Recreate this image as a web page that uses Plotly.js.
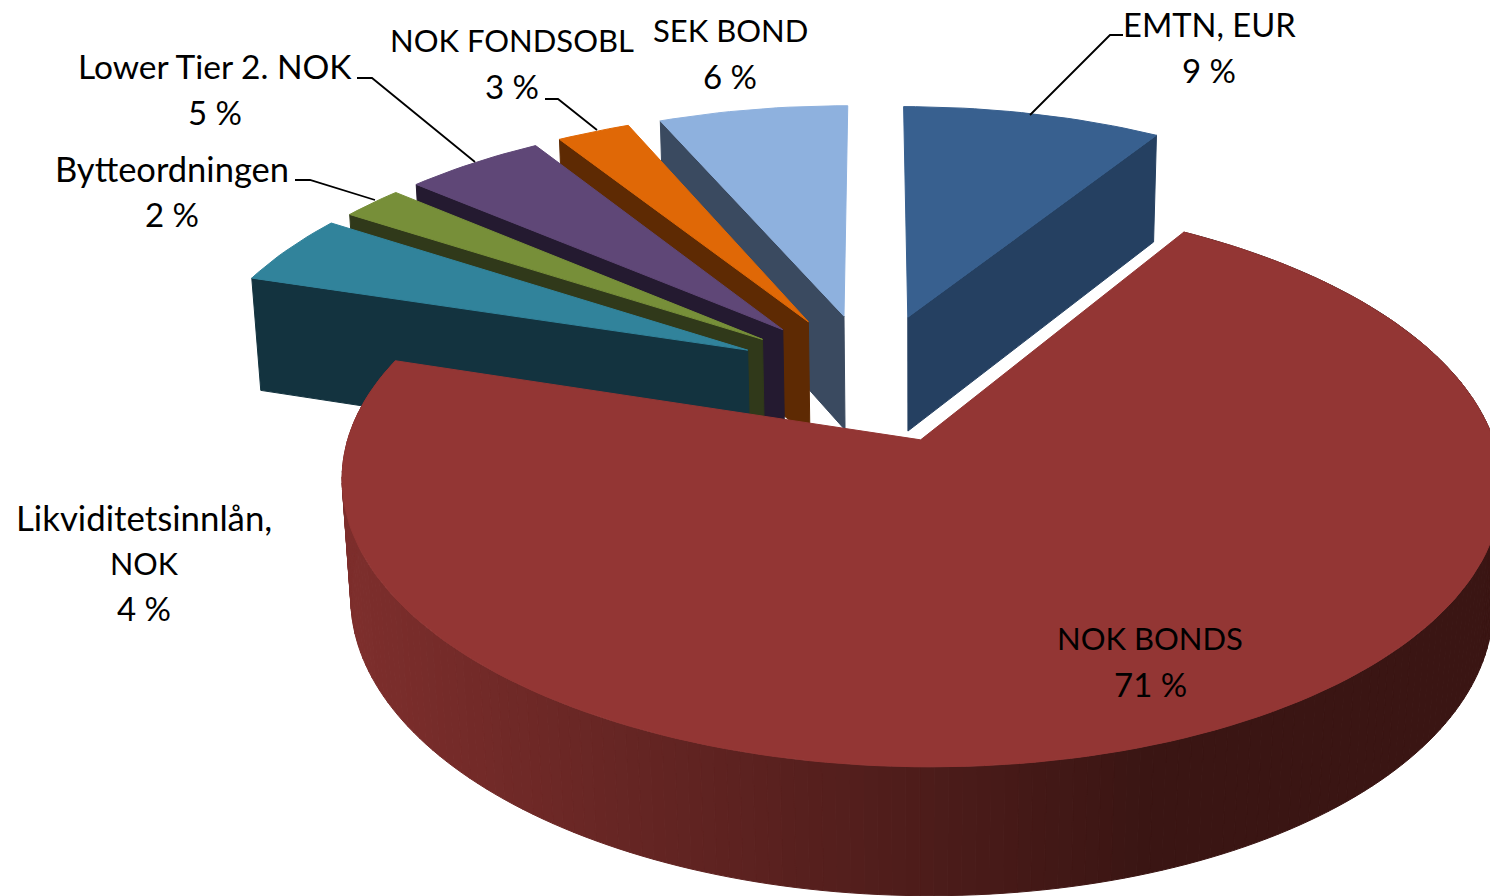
<!DOCTYPE html>
<html><head><meta charset="utf-8">
<script src="https://cdn.plot.ly/plotly-3.0.1.min.js"></script>
<style>html,body{margin:0;padding:0;background:#fff}#c{width:1490px;height:896px}</style>
</head><body><div id="c"></div>
<script>
// ---- data ----
const categories = ["EMTN, EUR","NOK BONDS","Likviditetsinnlån, NOK","Bytteordningen","Lower Tier 2. NOK","NOK FONDSOBL","SEK BOND"];
const values = [8.88,70.92,4.35,2.09,4.76,2.51,6.49];
const labelLines = [["EMTN, EUR"],["NOK BONDS"],["Likviditetsinnlån,","NOK"],["Bytteordningen"],["Lower Tier 2. NOK"],["NOK FONDSOBL"],["SEK BOND"]];

// ---- styles ----
const topColors  = ["#38608f","#933634","#31839b","#778f39","#5f4777","#e06806","#8eb1de"];
const sideColors = ["#254061","#7d2e2c","#13333f","#30391a","#241a30","#5e2a03","#3a4a60"];
const labelX = [1209,1150,144,172,215,512,730];
const labelY = [24,638,517,168,66,40,30];
const labelSizes = [[32.7],[31],[34.8,30.5],[34.5],[33.5],[31],[31]];
const valueSize = 33;
const lineGap = 45.5;
const rimScale = [1,1,1.006,1,1,1,1];
const leaders = [
  [[1123,1110,1030],[35,35,115]],
  [[357,372,475],[78,78,162]],
  [[545,558,597],[99,99,130]],
  [[295,310,375],[180,180,200]]
];

// ---- projection of the tilted pie (red apex is the origin of the plane) ----
const CX=920, CY=440, A=573, B=277, K=0.153, EXPLODE=0.25, SKEW=8, ROT=0.1;
const C0=[-0.0855,-0.235];
function proj(u,v,d){
  const w=1-K*v+0.015*d;
  return [CX+(A*u+SKEW*v)/w, CY+(B*v+d*(120-4*v))/w];
}
const rad=a=>a*Math.PI/180;
const total=values.reduce((a,b)=>a+b,0);
let acc=0;
const slices=values.map((val,i)=>{
  const a0=acc/total*360+ROT; acc+=val; const a1=acc/total*360+ROT; const mid=(a0+a1)/2;
  const ox=C0[0]+EXPLODE*Math.sin(rad(mid)), oy=C0[1]-EXPLODE*Math.cos(rad(mid));
  const rim=(a)=>[ox+rimScale[i]*Math.sin(rad(a)),oy-rimScale[i]*Math.cos(rad(a))];
  return {i,a0,a1,ox,oy,rim};
});
function poly(pts,color){
  return {type:"scatter",mode:"lines",x:pts.map(p=>p[0]),y:pts.map(p=>p[1]),fill:"toself",fillcolor:color,
    line:{color:color,width:1},hoverinfo:"skip",showlegend:false};
}
function hex(c){return [1,3,5].map(k=>parseInt(c.substr(k,2),16));}
function mix(a,b,t){const x=hex(a),y=hex(b);return "rgb("+x.map((v,k)=>Math.round(v+(y[k]-v)*t)).join(",")+")";}
const traces=[];
function wedge(s){
  const pts=[proj(s.ox,s.oy,0)];
  const n=Math.max(6,Math.ceil((s.a1-s.a0)/1.5));
  for(let k=0;k<=n;k++){const r=s.rim(s.a0+(s.a1-s.a0)*k/n);pts.push(proj(r[0],r[1],0));}
  pts.push(pts[0]);
  return poly(pts,topColors[s.i]);
}
function wall(s,a){
  const r=s.rim(a);
  return poly([proj(s.ox,s.oy,0),proj(r[0],r[1],0),proj(r[0],r[1],1),proj(s.ox,s.oy,1),proj(s.ox,s.oy,0)],sideColors[s.i]);
}
// back-to-front painter's order: SEK, EMTN, orange, purple, green, teal, red
[[6,"a0"],[0,"a1"],[5,"a0"],[4,"a0"],[3,"a0"],[2,"a0"]].forEach(([i,e])=>{
  const s=slices[i]; traces.push(wall(s,s[e])); traces.push(wedge(s));
});
// main slice: shaded outer wall then top
const red=slices[1];
const step=1.2;
for(let a=red.a0;a<red.a1;a+=step){
  const b=Math.min(a+step,red.a1);
  const r0=red.rim(a),r1=red.rim(b);
  const p=[proj(r0[0],r0[1],0),proj(r1[0],r1[1],0),proj(r1[0],r1[1],1),proj(r0[0],r0[1],1)];
  const mx=(p[0][0]+p[1][0])/2;
  const t=Math.min(1,Math.max(0,(mx-350)/(1150-350)));
  const col=mix("#7d2e2c","#3a1513",t);
  p.push(p[0]);
  traces.push(poly(p,col));
}
traces.push(wedge(red));
// leader lines
leaders.forEach(l=>traces.push({type:"scatter",mode:"lines",x:l[0],y:l[1],line:{color:"#000",width:1.8},hoverinfo:"skip",showlegend:false}));

// labels
const annotations=[];
labelLines.forEach((lines,i)=>{
  lines.forEach((t,k)=>annotations.push({x:labelX[i],y:labelY[i]+k*lineGap,xref:"x",yref:"y",text:t,showarrow:false,xanchor:"center",yanchor:"middle",
      font:{family:"Lato, Carlito, sans-serif",size:labelSizes[i][k],color:"#000"}}));
  annotations.push({x:labelX[i],y:labelY[i]+lines.length*lineGap,xref:"x",yref:"y",text:Math.round(values[i])+" %",showarrow:false,xanchor:"center",yanchor:"middle",
      font:{family:"Lato, Carlito, sans-serif",size:valueSize,color:"#000"}});
});
const ax={range:[0,1490],visible:false,fixedrange:true};
Plotly.newPlot("c",traces,{
  width:1490,height:896,margin:{l:0,r:0,t:0,b:0},paper_bgcolor:"#fff",plot_bgcolor:"#fff",showlegend:false,
  xaxis:ax,yaxis:{range:[896,0],visible:false,fixedrange:true},annotations
},{displayModeBar:false,staticPlot:true});
</script></body></html>
